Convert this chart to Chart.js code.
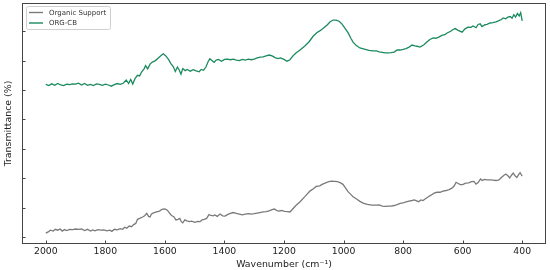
<!DOCTYPE html>
<html>
<head>
<meta charset="utf-8">
<script src="https://cdn.jsdelivr.net/npm/chart.js@4/dist/chart.umd.min.js"></script>
<style>
html,body{margin:0;padding:0;background:#fff;}
#wrap{width:550px;height:270px;position:relative;}
</style>
</head>
<body>
<div id="wrap"><canvas id="c" width="550" height="270"></canvas></div>
<script>
// ---- data ----
const seriesNames = ["Organic Support", "ORG-CB"];
const xTickValues = [2000, 1800, 1600, 1400, 1200, 1000, 800, 600, 400];

const supportWavenumbers = [2000,1992,1985,1975,1968,1960,1952,1945,1937,1930,1920,1910,1900,1890,1880,1870,1860,1850,1842,1835,1825,1815,1805,1795,1785,1778,1770,1760,1750,1742,1735,1728,1720,1712,1705,1698,1692,1685,1675,1668,1661,1655,1650,1645,1638,1628,1618,1610,1600,1592,1585,1578,1570,1563,1556,1550,1545,1540,1533,1526,1518,1510,1500,1490,1482,1475,1468,1460,1452,1445,1438,1432,1424,1415,1406,1398,1390,1380,1371,1360,1350,1340,1330,1320,1310,1300,1290,1281,1270,1260,1250,1240,1232,1225,1218,1208,1198,1188,1180,1170,1160,1146,1130,1113,1100,1092,1080,1072,1060,1050,1040,1030,1020,1010,1002,993,985,975,968,955,945,934,920,905,890,880,870,860,850,840,830,820,810,800,790,780,770,762,755,748,740,733,725,715,705,696,686,676,666,656,646,636,628,622,615,608,600,590,580,570,562,555,548,540,534,527,518,508,498,488,478,470,462,455,448,442,436,430,424,418,412,407,402,400];
const supportValues = [1.3,1.7,2.3,2.0,2.6,2.3,2.7,2.0,2.5,2.2,2.6,2.5,2.7,2.6,2.7,2.2,2.6,2.0,2.4,2.1,2.5,2.3,2.4,2.1,2.3,1.9,2.6,2.4,2.8,2.6,3.3,3.0,3.7,3.5,4.2,4.6,6.0,6.3,6.8,7.2,8.0,7.0,6.8,7.8,8.2,8.5,8.8,9.4,9.5,9.1,8.2,7.3,6.9,5.8,6.0,6.3,5.2,4.8,5.8,5.5,5.2,5.4,5.0,5.3,5.2,5.8,6.0,6.3,7.6,7.3,7.2,7.5,7.0,7.8,7.2,7.1,7.6,8.0,8.3,8.0,7.8,7.5,7.8,7.9,7.8,7.9,8.1,8.3,8.5,8.6,8.9,9.3,9.5,9.0,8.8,9.0,8.7,8.6,8.5,9.6,10.7,12.0,13.7,15.6,16.5,17.2,17.4,17.9,18.4,18.8,19.0,18.9,18.8,18.4,17.9,16.6,15.4,14.4,13.7,12.8,12.1,11.5,11.1,10.8,10.8,10.9,10.5,10.4,10.5,10.5,10.7,11.0,11.4,11.6,11.9,12.2,12.4,12.6,12.3,12.0,12.6,12.4,13.0,13.7,14.3,14.9,15.2,15.2,15.6,15.8,16.1,16.6,17.4,18.6,18.2,17.8,17.8,18.3,18.4,18.8,18.9,18.0,18.5,19.7,19.2,19.6,19.4,19.4,19.3,19.2,19.4,20.2,20.9,21.4,20.8,20.1,21.0,21.7,20.8,20.2,21.2,21.9,21.0,20.7];

const cbWavenumbers = [2000,1990,1980,1970,1960,1950,1940,1930,1920,1910,1900,1890,1880,1870,1860,1850,1840,1830,1820,1810,1800,1790,1780,1770,1760,1750,1740,1730,1722,1715,1708,1700,1692,1685,1678,1670,1665,1658,1650,1642,1632,1622,1612,1605,1597,1588,1580,1572,1565,1558,1552,1546,1540,1532,1525,1515,1505,1495,1485,1478,1470,1462,1455,1449,1442,1435,1428,1420,1410,1400,1390,1380,1370,1360,1350,1340,1330,1320,1310,1300,1290,1280,1270,1260,1250,1240,1230,1220,1212,1200,1190,1180,1170,1160,1146,1130,1115,1103,1090,1080,1068,1055,1045,1035,1025,1015,1005,995,985,975,968,958,945,930,915,901,890,880,870,860,850,840,830,820,810,800,790,780,770,760,750,743,730,720,710,699,690,680,670,660,652,640,632,625,615,602,592,582,572,565,555,548,541,535,525,518,508,498,488,478,470,464,455,448,440,434,428,422,416,410,405,400];
const cbValues = [51.9,51.5,52.1,51.6,52.2,51.7,51.5,52.0,51.8,52.1,52.0,52.3,51.7,52.2,51.6,51.9,51.5,52.1,51.9,51.6,52.0,51.7,51.3,51.8,52.2,51.9,52.3,53.4,52.2,53.6,52.0,54.0,55.0,54.8,56.2,57.2,58.3,57.2,58.8,59.5,60.0,60.9,61.8,62.3,61.6,60.4,59.0,58.0,56.3,57.8,56.8,55.4,57.3,56.6,57.0,56.4,56.9,56.5,56.2,57.0,56.7,57.9,59.6,60.6,60.0,59.4,60.2,60.4,59.8,60.4,60.5,60.3,60.5,60.2,60.0,60.4,60.2,60.5,60.3,60.5,60.9,61.2,61.3,61.6,61.9,61.6,61.0,60.7,60.9,60.4,59.8,60.3,61.6,62.6,63.6,65.0,66.5,68.2,69.5,70.1,71.0,72.1,73.2,73.8,73.8,73.4,72.4,71.0,69.5,67.5,66.3,65.2,64.3,63.9,63.5,63.3,63.3,63.0,62.8,62.6,62.6,62.7,62.9,63.6,63.6,63.8,64.1,64.6,65.3,65.0,64.8,64.6,65.4,66.3,67.2,67.7,67.6,68.0,68.6,68.8,69.4,70.0,70.6,70.9,70.3,69.7,70.8,71.4,71.3,71.8,71.2,72.3,72.5,71.6,72.2,72.3,72.8,72.9,73.2,73.6,74.0,74.5,74.2,74.8,75.0,74.4,75.6,74.8,76.0,75.2,76.3,73.5];

const seriesColors = ["#7a7a7a", "#1b8a5e"];

function pts(xs, ys){ return xs.map((x,i)=>({x:x, y:ys[i]})); }

const FONT = "'DejaVu Sans', sans-serif";

const frameAndTicks = {
  id: 'frameAndTicks',
  afterDraw(chart){
    const {ctx, chartArea:a, scales} = chart;
    ctx.save();
    ctx.strokeStyle = '#444';
    ctx.lineWidth = 1;
    ctx.strokeRect(Math.round(a.left)+0.5, Math.round(a.top)+0.5, Math.round(a.right-a.left)-1, Math.round(a.bottom-a.top)-1);
    ctx.beginPath();
    scales.x.ticks.forEach(t=>{
      const px = Math.round(scales.x.getPixelForValue(t.value))+0.5;
      ctx.moveTo(px, a.bottom); ctx.lineTo(px, a.bottom-3.5);
    });
    scales.y.ticks.forEach(t=>{
      const py = Math.round(scales.y.getPixelForValue(t.value))+0.5;
      ctx.moveTo(a.left, py); ctx.lineTo(a.left+3.5, py);
    });
    ctx.stroke();
    // legend
    const lx=26.5, ly=6.5, lw=84, lh=23;
    ctx.fillStyle='rgba(255,255,255,0.85)';
    ctx.strokeStyle='#d0d0d0';
    ctx.beginPath();
    if (ctx.roundRect) ctx.roundRect(lx,ly,lw,lh,2); else ctx.rect(lx,ly,lw,lh);
    ctx.fill(); ctx.stroke();
    chart.data.datasets.forEach((ds,i)=>{
      const y = 12.5 + i*10.5;
      ctx.strokeStyle = ds.borderColor;
      ctx.lineWidth = 1.4;
      ctx.beginPath(); ctx.moveTo(29, y); ctx.lineTo(43, y); ctx.stroke();
      ctx.fillStyle = '#333';
      ctx.font = "7px " + FONT;
      ctx.textBaseline = 'middle';
      ctx.textAlign = 'left';
      ctx.fillText(ds.label, 49, y+0.5);
    });
    ctx.restore();
  }
};

new Chart(document.getElementById('c'), {
  type: 'line',
  data: {
    datasets: [
      {label: seriesNames[0], data: pts(supportWavenumbers, supportValues), borderColor: seriesColors[0], borderWidth: 1.3, pointRadius: 0, tension: 0, fill: false},
      {label: seriesNames[1], data: pts(cbWavenumbers, cbValues), borderColor: seriesColors[1], borderWidth: 1.3, pointRadius: 0, tension: 0, fill: false}
    ]
  },
  options: {
    responsive: false,
    animation: false,
    layout: {padding: {left: 0, right: 4, top: 3, bottom: 0}},
    plugins: {legend: {display: false}, tooltip: {enabled: false}},
    scales: {
      x: {
        type: 'linear', reverse: true, min: 320, max: 2080,
        afterBuildTicks(scale){ scale.ticks = xTickValues.map(v=>({value:v})); },
        afterFit(scale){ scale.height = 26; },
        grid: {display: true, drawOnChartArea: false, drawTicks: false},
        border: {display: false},
        ticks: {font: {family: FONT, size: 9.3}, color: '#222', padding: 2, maxRotation: 0, callback: (v)=>String(v)},
        title: {display: true, text: 'Wavenumber (cm\u207B\u00B9)', font: {family: FONT, size: 9.4}, color: '#222', padding: {top: 0, bottom: 0}}
      },
      y: {
        type: 'linear', min: -2.4, max: 79.6,
        ticks: {display: false, stepSize: 10, includeBounds: false},
        afterFit(scale){ scale.width = 22; },
        grid: {display: true, drawOnChartArea: false, drawTicks: false},
        border: {display: false},
        title: {display: true, text: 'Transmittance (%)', font: {family: FONT, size: 9.4}, color: '#222', padding: {top: 3, bottom: 0}}
      }
    }
  },
  plugins: [frameAndTicks]
});
</script>
</body>
</html>
